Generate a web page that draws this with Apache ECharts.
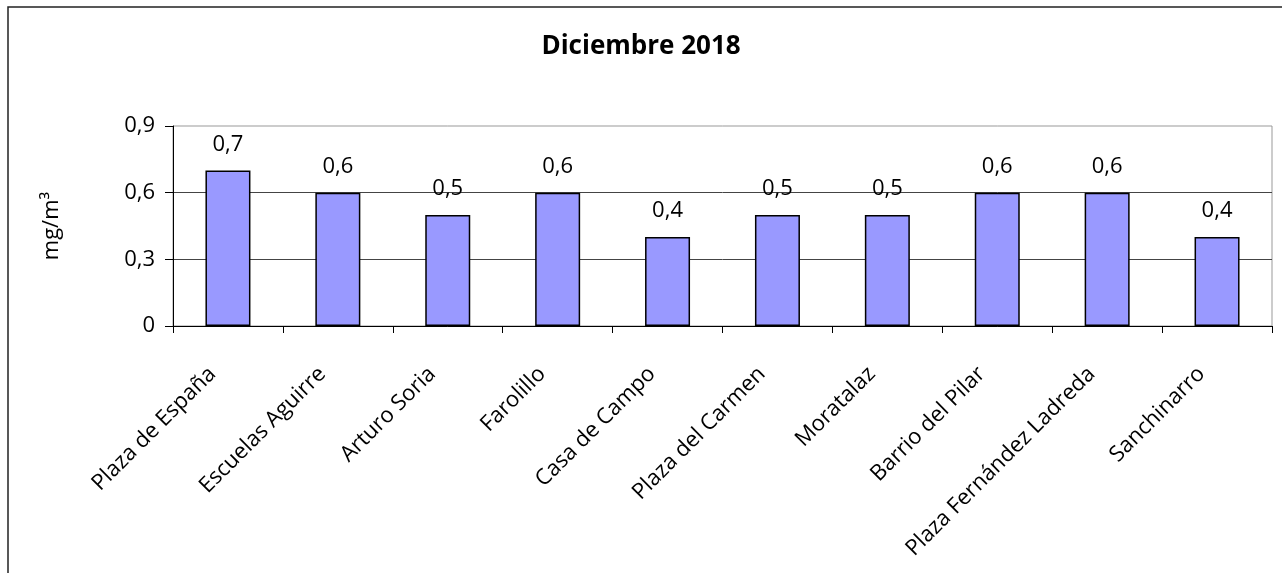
<!DOCTYPE html>
<html><head><meta charset="utf-8">
<script src="https://cdn.jsdelivr.net/npm/echarts@6/dist/echarts.min.js"></script>
<style>html,body{margin:0;padding:0;background:#fff}#c{width:1282px;height:573px}</style>
</head><body><div id="c"></div>
<script>
const title = 'Diciembre 2018';
const categories = ['Plaza de España','Escuelas Aguirre','Arturo Soria','Farolillo','Casa de Campo','Plaza del Carmen','Moratalaz','Barrio del Pilar','Plaza Fernández Ladreda','Sanchinarro'];
const values = [0.7,0.6,0.5,0.6,0.4,0.5,0.5,0.6,0.6,0.4];
const yTicks = [0,0.3,0.6,0.9];
const yName = 'mg/m³';
const fmt = v => String(v).replace('.', ',');
const FONT = 'Open Sans';
const chart = echarts.init(document.getElementById('c'), null, {renderer:'canvas'});
chart.setOption({
  backgroundColor:'#fff',
  animation:false,
  textStyle:{fontFamily:FONT},
  title:{text:title,left:'center',top:29,textStyle:{fontFamily:FONT,fontSize:26,fontWeight:'bold',color:'#000'}},
  graphic:[{type:'rect',shape:{x:8,y:7,width:1300,height:600},style:{fill:'none',stroke:'#222',lineWidth:1.5},silent:true}],
  grid:{left:173,top:126,right:10,bottom:247,containLabel:false,show:true,borderColor:'#999',borderWidth:1},
  xAxis:{type:'category',data:categories,
    axisLine:{lineStyle:{color:'#000',width:1}},
    axisTick:{show:true,alignWithLabel:false,length:7,lineStyle:{color:'#000'}},
    axisLabel:{rotate:45,fontSize:22,color:'#000',margin:29,interval:0,fontFamily:FONT,padding:[0,22,0,0]}},
  yAxis:{type:'value',min:yTicks[0],max:yTicks[yTicks.length-1],interval:0.3,
    name:yName,nameLocation:'middle',nameGap:110,nameRotate:90,
    nameTextStyle:{fontSize:22,color:'#000',fontFamily:FONT},
    axisLine:{show:true,lineStyle:{color:'#000'}},
    axisTick:{show:true,inside:false,length:8,lineStyle:{color:'#000'}},
    axisLabel:{fontSize:22,color:'#000',margin:18,formatter:v=>fmt(Math.round(v*10)/10),fontFamily:FONT},
    splitLine:{show:true,showMaxLine:false,lineStyle:{color:'#444',width:1}}},
  series:[{type:'bar',data:values,barWidth:45,
    itemStyle:{color:'#9999FF',borderColor:'#000',borderWidth:1.5},
    label:{show:true,position:'top',distance:15,fontSize:22,color:'#000',fontFamily:FONT,formatter:p=>fmt(p.value)}}]
});
</script></body></html>
